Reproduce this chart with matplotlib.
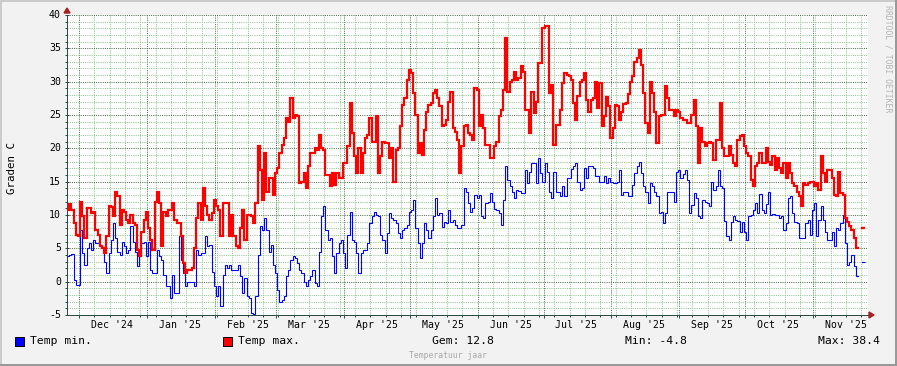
import numpy as np
import matplotlib
matplotlib.use("Agg")
import matplotlib.pyplot as plt
from matplotlib.patches import Rectangle, Polygon
import datetime as dt

# ---------------- data ----------------
day0 = dt.date(2024, 12, 1)          # reference day (x = 0)
first_day = dt.date(2024, 11, 26)     # date of first sample
nan = float("nan")

temp_max = [
    10.8, 11.6, 10.8, 8.8, 7.0, 6.9, 12.0, 9.8, 6.6, 11.0,
    11.0, 10.3, 10.5, 7.8, 7.0, 5.3, 5.1, 4.3, 6.8, 11.3,
    11.2, 9.8, 13.5, 12.8, 8.5, 10.8, 10.5, 9.3, 8.8, 10.0,
    8.8, 8.5, 4.8, 3.8, 7.5, 9.3, 10.5, 8.0, 6.3, 4.8,
    12.0, 13.5, 11.8, 5.3, 10.5, 9.8, 10.8, 10.8, 11.8, 9.3,
    8.8, 8.8, 6.8, 2.8, 1.3, 1.8, 1.8, 2.0, 5.0, 9.5,
    11.8, 9.3, 14.0, 11.3, 10.0, 9.3, 10.3, 12.3, 11.3, 10.8,
    6.8, 11.8, 11.8, 11.8, 6.8, 10.0, 6.8, 5.3, 5.0, 8.0,
    10.8, 6.3, 10.0, 10.0, 9.8, 8.8, 11.8, 20.3, 16.8, 12.3,
    19.3, 13.5, 15.5, 15.5, 13.0, 16.3, 17.0, 19.3, 20.5, 21.5,
    24.5, 24.0, 27.5, 24.5, 25.0, 24.8, 14.8, 15.0, 16.3, 14.0,
    17.3, 19.3, 19.3, 20.0, 19.8, 22.0, 20.0, 19.8, 16.0, 16.0,
    14.3, 16.3, 14.5, 16.3, 15.5, 15.5, 17.8, 17.8, 20.3, 26.8,
    22.3, 18.8, 16.3, 20.0, 16.3, 19.3, 21.5, 22.0, 24.5, 21.0,
    21.0, 24.8, 16.3, 18.8, 21.0, 20.8, 20.8, 18.5, 20.0, 15.0,
    19.8, 20.0, 23.3, 26.5, 27.5, 30.3, 31.7, 31.3, 28.3, 25.0,
    19.3, 20.8, 19.0, 22.8, 25.5, 26.5, 26.8, 28.3, 28.8, 27.5,
    26.3, 23.3, 23.5, 24.3, 27.0, 28.4, 23.0, 22.5, 21.3, 16.3,
    20.3, 23.3, 23.5, 22.3, 22.0, 21.3, 29.0, 28.8, 23.3, 25.0,
    23.0, 20.5, 20.5, 18.5, 18.5, 20.3, 21.0, 24.8, 25.8, 28.8,
    36.5, 28.5, 30.0, 30.3, 31.5, 30.3, 30.5, 32.3, 31.5, 25.8,
    25.8, 22.3, 28.5, 25.3, 27.0, 32.8, 32.8, 38.0, 38.3, 38.3,
    28.3, 29.5, 20.5, 23.5, 23.5, 25.8, 29.8, 31.3, 31.0, 30.8,
    30.3, 26.8, 24.3, 27.8, 30.0, 30.3, 31.3, 27.3, 25.5, 27.3,
    27.5, 30.0, 26.0, 29.8, 23.3, 24.8, 27.7, 26.3, 21.5, 23.0,
    26.5, 26.3, 24.3, 25.5, 26.7, 26.8, 28.2, 30.0, 30.8, 33.0,
    33.5, 34.7, 32.5, 28.3, 23.8, 22.3, 30.0, 28.3, 25.5, 20.8,
    24.8, 25.0, 25.0, 29.3, 27.5, 25.8, 25.8, 24.8, 25.8, 25.5,
    24.5, 24.3, 24.3, 23.8, 23.8, 25.0, 27.3, 23.3, 17.8, 23.0,
    21.0, 20.3, 20.8, 21.0, 20.8, 18.3, 21.3, 21.3, 26.8, 20.0,
    18.8, 18.8, 20.4, 19.0, 17.8, 17.3, 21.3, 21.8, 22.0, 20.3,
    19.3, 18.8, 15.3, 14.3, 17.3, 17.8, 19.3, 17.8, 17.8, 20.0,
    18.0, 17.5, 18.8, 16.8, 18.5, 17.1, 16.3, 17.8, 15.5, 17.8,
    16.3, 14.8, 14.3, 13.5, 12.8, 11.3, 14.8, 14.5, 14.8, 15.0,
    15.0, 14.3, 14.8, 13.8, 18.8, 16.3, 15.0, 16.8, 16.8, 15.5,
    13.0, 12.8, 16.5, 13.3, 13.0, 9.5, 9.0, 8.3, 7.8, 6.5,
    5.0, nan, nan, 8.0,
]

temp_min = [
    3.8, 4.0, 4.2, 0.3, -0.5, -0.5, 7.8, 4.3, 2.5, 5.0,
    5.8, 4.8, 6.3, 5.8, 5.8, 5.3, 5.0, 3.0, 1.3, 4.3,
    6.3, 8.8, 6.5, 4.5, 4.0, 6.0, 5.3, 4.3, 4.8, 8.3,
    6.0, 4.5, 2.3, 3.8, 5.8, 6.0, 3.8, 6.0, 1.8, 1.3,
    1.3, 4.8, 3.8, 3.3, 1.0, -0.7, -0.7, -2.5, 1.0, -1.7,
    -1.7, 6.8, 3.3, 1.3, -0.7, 0.0, 0.0, 0.0, -0.7, 4.8,
    4.0, 4.3, 4.3, 6.8, 5.3, 5.5, 1.5, -0.7, -2.2, -0.7,
    -3.7, 1.0, 2.5, 2.0, 2.5, 1.8, 1.8, 1.8, 2.5, 0.8,
    -1.7, 0.5, -2.2, -2.5, -4.7, -4.8, -2.2, 4.0, 8.3, 7.8,
    9.5, 7.8, 4.5, 5.5, 2.5, 1.3, -1.2, -3.0, -2.7, -2.2,
    0.8, 1.8, 3.3, 3.8, 3.5, 2.8, 1.8, 1.3, 0.0, -0.7,
    0.3, 0.8, 1.8, -0.2, -0.7, 4.5, 9.8, 11.3, 7.8, 6.3,
    6.5, 3.8, 1.3, 4.3, 5.8, 6.3, 4.3, 2.0, 7.0, 10.5,
    6.3, 6.0, 4.3, 1.3, 4.3, 4.8, 4.7, 5.8, 8.8, 9.8,
    10.5, 10.0, 9.8, 7.0, 6.3, 4.3, 7.3, 10.3, 9.5, 9.3,
    8.8, 7.3, 6.5, 7.8, 8.0, 8.5, 10.5, 10.8, 12.3, 8.0,
    5.8, 3.5, 5.8, 8.8, 7.8, 6.5, 7.8, 9.8, 12.5, 10.0,
    10.3, 8.2, 9.0, 8.8, 10.8, 9.0, 9.3, 8.5, 8.0, 8.0,
    8.5, 14.0, 13.4, 11.8, 10.5, 11.0, 13.0, 12.5, 13.0, 9.8,
    9.5, 11.8, 12.0, 13.3, 12.0, 10.9, 10.8, 10.3, 8.5, 12.3,
    17.3, 15.3, 14.3, 13.4, 12.5, 13.8, 13.6, 13.3, 13.3, 16.8,
    14.8, 16.5, 17.8, 17.8, 14.8, 18.5, 16.3, 15.0, 17.8, 16.5,
    13.5, 12.5, 16.5, 13.5, 13.5, 12.8, 14.3, 12.8, 15.5, 15.5,
    16.9, 17.3, 17.8, 15.0, 13.8, 14.0, 17.1, 15.5, 17.3, 17.3,
    17.0, 15.8, 15.8, 15.0, 15.0, 15.8, 14.8, 15.5, 15.0, 14.8,
    14.8, 15.0, 16.8, 13.0, 13.5, 13.5, 12.8, 12.8, 14.5, 16.3,
    17.3, 18.0, 16.3, 14.3, 13.5, 11.8, 14.8, 14.3, 13.5, 12.8,
    10.3, 10.4, 8.8, 10.3, 13.5, 13.5, 13.5, 12.0, 16.5, 16.8,
    15.5, 16.2, 16.8, 15.3, 10.3, 11.5, 13.3, 12.5, 9.8, 9.5,
    12.2, 12.0, 11.8, 11.3, 15.0, 13.8, 14.3, 16.8, 14.3, 14.0,
    9.1, 6.8, 6.3, 9.0, 9.8, 9.3, 9.1, 7.5, 9.0, 7.5,
    6.3, 9.8, 10.0, 10.8, 11.8, 10.3, 13.1, 10.8, 10.3, 11.6,
    13.5, 10.0, 10.1, 10.0, 10.0, 9.5, 9.8, 7.8, 8.8, 12.5,
    12.8, 10.3, 9.0, 8.8, 6.5, 6.5, 6.5, 8.8, 9.3, 7.0,
    10.8, 11.8, 6.8, 9.3, 11.3, 9.3, 7.5, 6.3, 6.3, 7.5,
    5.3, 8.1, 7.8, 8.8, 10.0, 5.8, 2.5, 3.0, 4.0, 2.3,
    0.8, nan, nan, 3.0,
]

month_labels = ["Dec '24", "Jan '25", "Feb '25", "Mar '25", "Apr '25", "May '25",
                "Jun '25", "Jul '25", "Aug '25", "Sep '25", "Oct '25", "Nov '25"]
month_starts = [dt.date(2024, 12, 1)] + [dt.date(2025, m, 1) for m in range(1, 12)]
y_ticks = [-5, 0, 5, 10, 15, 20, 25, 30, 35, 40]

legend_min = "Temp min."
legend_max = "Temp max."
stat_avg = "Gem: 12.8"
stat_min = "Min: -4.8"
stat_max = "Max: 38.4"
y_title = "Graden C"
watermark = "Temperatuur jaar"
side_text = "RRDTOOL / TOBI OETIKER"

# ---------------- figure ----------------
W, H = 897, 366
DPI = 100
PX = 72.0 / DPI  # points per pixel

BACK = "#F2F2F2"
MINOR = "#8CC48C"
MAJOR = "#4A6E4A"
AXIS = "#2C4D43"
ARROW = "#A52222"
MONO = "DejaVu Sans Mono"

fig = plt.figure(figsize=(W / DPI, H / DPI), dpi=DPI, facecolor=BACK)


def fx(x):
    return x / W


def fy(y):
    return 1 - y / H


L, R, T, B = 67, 868, 15, 315
ax = fig.add_axes([fx(L), fy(B), fx(R - L), (B - T) / H])
ax.set_facecolor("white")

off0 = (first_day - day0).days
xs_max = np.arange(len(temp_max)) + off0
xs_min = np.arange(len(temp_min)) + off0
vmax = np.array(temp_max, dtype=float)
vmin = np.array(temp_min, dtype=float)

x_left = -5.48
x_right = 360.1
ax.set_xlim(x_left, x_right)
ax.set_ylim(-5, 40)

# grid
month_pos = [(d - day0).days for d in month_starts]
week_pos = list(range(0, 361, 7))
ax.set_xticks(month_pos)
ax.set_xticks(week_pos, minor=True)
ax.set_yticks(y_ticks)
ax.set_yticks(np.arange(-5, 41, 1), minor=True)
ax.grid(which="minor", color=MINOR, linestyle=(0, (1, 1.2)), linewidth=1 * PX)
ax.grid(which="major", color=MAJOR, linestyle=(0, (1, 1.2)), linewidth=1 * PX)
ax.set_axisbelow(True)
ax.tick_params(axis="x", which="major", direction="out", length=3 * PX,
               width=1 * PX, color=AXIS, labelbottom=False)
ax.tick_params(axis="x", which="minor", direction="out", length=2 * PX,
               width=1 * PX, color=AXIS)
ax.tick_params(axis="y", which="major", direction="inout", length=5 * PX,
               width=1 * PX, color=AXIS, labelleft=False)
ax.tick_params(axis="y", which="minor", direction="out", length=2 * PX,
               width=1 * PX, color=AXIS)

for s in ("top", "right"):
    ax.spines[s].set_visible(False)
for s in ("left", "bottom"):
    ax.spines[s].set_color(AXIS)
    ax.spines[s].set_linewidth(1 * PX)

# lines
ax.plot(xs_min, vmin, color="#0000FF", linewidth=1.1 * PX, drawstyle="steps-mid",
        solid_joinstyle="miter", zorder=3)
ax.plot(xs_max, vmax, color="#FF0000", linewidth=2.2 * PX, drawstyle="steps-mid",
        solid_joinstyle="miter", zorder=4)


def isolated(xs, vs, color, lw, z):
    n = len(vs)
    for i in range(n):
        if np.isnan(vs[i]):
            continue
        prev_nan = i == 0 or np.isnan(vs[i - 1])
        next_nan = i == n - 1 or np.isnan(vs[i + 1])
        if prev_nan and next_nan:
            ax.plot([xs[i] - 0.7, xs[i] + 0.7], [vs[i], vs[i]], color=color,
                    linewidth=lw, solid_capstyle="butt", zorder=z)


isolated(xs_min, vmin, "#0000FF", 1.1 * PX, 3)
isolated(xs_max, vmax, "#FF0000", 2.2 * PX, 4)

# y tick labels
for v in y_ticks:
    ax.text(-0.0075, v, str(v), transform=ax.get_yaxis_transform(), ha="right",
            va="center", fontsize=7.1, family=MONO, color="black")

# x labels at mid-month
for lab, d in zip(month_labels, month_starts):
    pos = (d - day0).days + 15
    ax.text(pos, -9.5 / (B - T), lab, transform=ax.get_xaxis_transform(),
            ha="center", va="center", fontsize=7.1, family=MONO, color="black")

# arrows
arrow_top = Polygon([[fx(L - 3), fy(13)], [fx(L + 3), fy(13)], [fx(L), fy(8)]],
                    closed=True, transform=fig.transFigure, color=ARROW, zorder=10)
arrow_right = Polygon([[fx(R + 1), fy(B - 3)], [fx(R + 1), fy(B + 3)], [fx(R + 6), fy(B)]],
                      closed=True, transform=fig.transFigure, color=ARROW, zorder=10)
fig.add_artist(arrow_top)
fig.add_artist(arrow_right)

# y title
fig.text(fx(12), fy(168), y_title, rotation=90, ha="center", va="center",
         fontsize=7.8, family=MONO, color="black")

# side text
fig.text(fx(887.5), fy(5), side_text, rotation=270, ha="center", va="top",
         fontsize=5.9, family=MONO, color="#B4B4B4")

# legend
ly = 341.5
fig.add_artist(Rectangle((fx(15), fy(346)), 9 / W, 9 / H, transform=fig.transFigure,
                         facecolor="#0000FF", edgecolor="black", linewidth=1 * PX))
fig.text(fx(30), fy(ly), legend_min, ha="left", va="center", fontsize=8.2,
         family=MONO, color="black")
fig.add_artist(Rectangle((fx(223), fy(346)), 9 / W, 9 / H, transform=fig.transFigure,
                         facecolor="#FF0000", edgecolor="black", linewidth=1 * PX))
fig.text(fx(238), fy(ly), legend_max, ha="left", va="center", fontsize=8.2,
         family=MONO, color="black")
fig.text(fx(431.5), fy(ly), stat_avg, ha="left", va="center", fontsize=8.2,
         family=MONO, color="black")
fig.text(fx(625), fy(ly), stat_min, ha="left", va="center", fontsize=8.2,
         family=MONO, color="black")
fig.text(fx(880), fy(ly), stat_max, ha="right", va="center", fontsize=8.2,
         family=MONO, color="black")

# watermark
fig.text(fx(447.5), fy(355), watermark, ha="center", va="center", fontsize=5.9,
         family=MONO, color="#A8A8A8")

# 3D border
fig.add_artist(Rectangle((0, fy(2)), 1, 2 / H, transform=fig.transFigure,
                         facecolor="#CBCBCB", edgecolor="none"))
fig.add_artist(Rectangle((0, 0), 2 / W, 1, transform=fig.transFigure,
                         facecolor="#CBCBCB", edgecolor="none"))
fig.add_artist(Rectangle((0, 0), 1, 2 / H, transform=fig.transFigure,
                         facecolor="#999999", edgecolor="none"))
fig.add_artist(Rectangle((fx(W - 2), 0), 2 / W, 1, transform=fig.transFigure,
                         facecolor="#999999", edgecolor="none"))

fig.savefig("out.png", dpi=DPI, facecolor=BACK)
